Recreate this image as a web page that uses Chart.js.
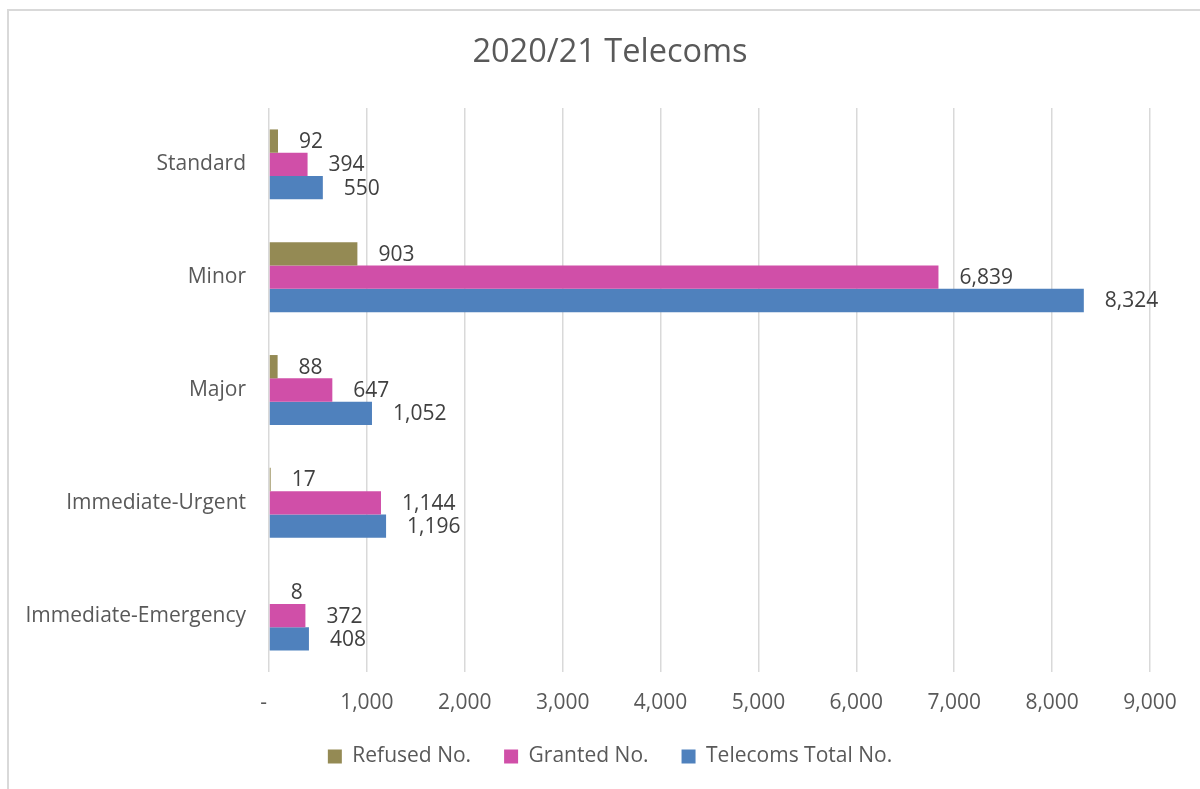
<!DOCTYPE html>
<html>
<head>
<meta charset="utf-8">
<script src="https://cdn.jsdelivr.net/npm/chart.js@4/dist/chart.umd.min.js"></script>
<style>
  html, body { margin: 0; padding: 0; background: #fff; overflow: hidden; }
  #frame {
    position: absolute; left: 7px; top: 9px; width: 1400px; height: 1000px;
    border-left: 2px solid #d9d9d9; border-top: 2px solid #d9d9d9;
  }
  #wrap { position: absolute; left: 0; top: 0; width: 1200px; height: 789px; }
</style>
</head>
<body>
<div id="frame"></div>
<div id="wrap"><canvas id="chart" width="1200" height="789"></canvas></div>
<script>
// Data
const categories = ['Standard', 'Minor', 'Major', 'Immediate-Urgent', 'Immediate-Emergency'];
const refused = [92, 903, 88, 17, 8];
const granted = [394, 6839, 647, 1144, 372];
const telecomsTotal = [550, 8324, 1052, 1196, 408];
const xTicks = [0, 1000, 2000, 3000, 4000, 5000, 6000, 7000, 8000, 9000];

const FONT = "'Open Sans', 'Liberation Sans', sans-serif";
const fmt = (v) => v.toLocaleString('en-US');

// Value labels to the right of each bar
const barLabels = {
  id: 'barLabels',
  afterDatasetsDraw(chart) {
    const c = chart.ctx;
    c.save();
    c.font = '21px ' + FONT;
    c.fillStyle = '#404040';
    c.textAlign = 'left';
    c.textBaseline = 'middle';
    chart.data.datasets.forEach((ds, i) => {
      chart.getDatasetMeta(i).data.forEach((bar, j) => {
        c.fillText(fmt(ds.data[j]), bar.x + 21, bar.y + 1);
      });
    });
    c.restore();
  }
};

const ctx = document.getElementById('chart').getContext('2d');
const chart = new Chart(ctx, {
  type: 'bar',
  data: {
    labels: categories,
    datasets: [
      { label: 'Refused No.', data: refused, backgroundColor: '#948a54' },
      { label: 'Granted No.', data: granted, backgroundColor: '#d04fa8' },
      { label: 'Telecoms Total No.', data: telecomsTotal, backgroundColor: '#4f81bd' }
    ]
  },
  plugins: [barLabels],
  options: {
    indexAxis: 'y',
    responsive: false,
    animation: false,
    // right edge pushed out a little so title and legend sit centred like the plot frame
    layout: { padding: { top: 0, left: 0, right: -20, bottom: 12 } },
    datasets: { bar: { categoryPercentage: 0.62, barPercentage: 1.0 } },
    scales: {
      x: {
        min: xTicks[0],
        max: xTicks[xTicks.length - 1],
        afterBuildTicks: (scale) => { scale.ticks = xTicks.map(v => ({ value: v })); },
        afterFit: (scale) => { scale.height = 41; },
        grid: { color: '#d9d9d9', lineWidth: 1.5, drawTicks: false },
        border: { display: false },
        ticks: {
          padding: 18,
          color: '#595959',
          font: { family: FONT, size: 21 },
          callback: (v) => v === 0 ? '-  ' : fmt(v)
        }
      },
      y: {
        afterFit: (scale) => { scale.width = 269; },
        grid: { display: false, drawTicks: false },
        border: { display: false },
        ticks: {
          padding: 23,
          color: '#595959',
          font: { family: FONT, size: 21 }
        }
      },
      // empty spacer on the right for the value labels
      yRight: {
        type: 'category',
        position: 'right',
        afterFit: (scale) => { scale.width = 70; },
        grid: { display: false, drawTicks: false },
        border: { display: false },
        ticks: { display: false }
      }
    },
    plugins: {
      title: {
        display: true,
        text: '2020/21 Telecoms',
        color: '#595959',
        font: { family: FONT, size: 32.5, weight: 'normal' },
        padding: { top: 33, bottom: 36 }
      },
      tooltip: { enabled: false },
      legend: {
        position: 'bottom',
        labels: {
          boxWidth: 14,
          boxHeight: 14,
          padding: 33,
          color: '#595959',
          font: { family: FONT, size: 21 }
        }
      }
    }
  }
});
</script>
</body>
</html>
